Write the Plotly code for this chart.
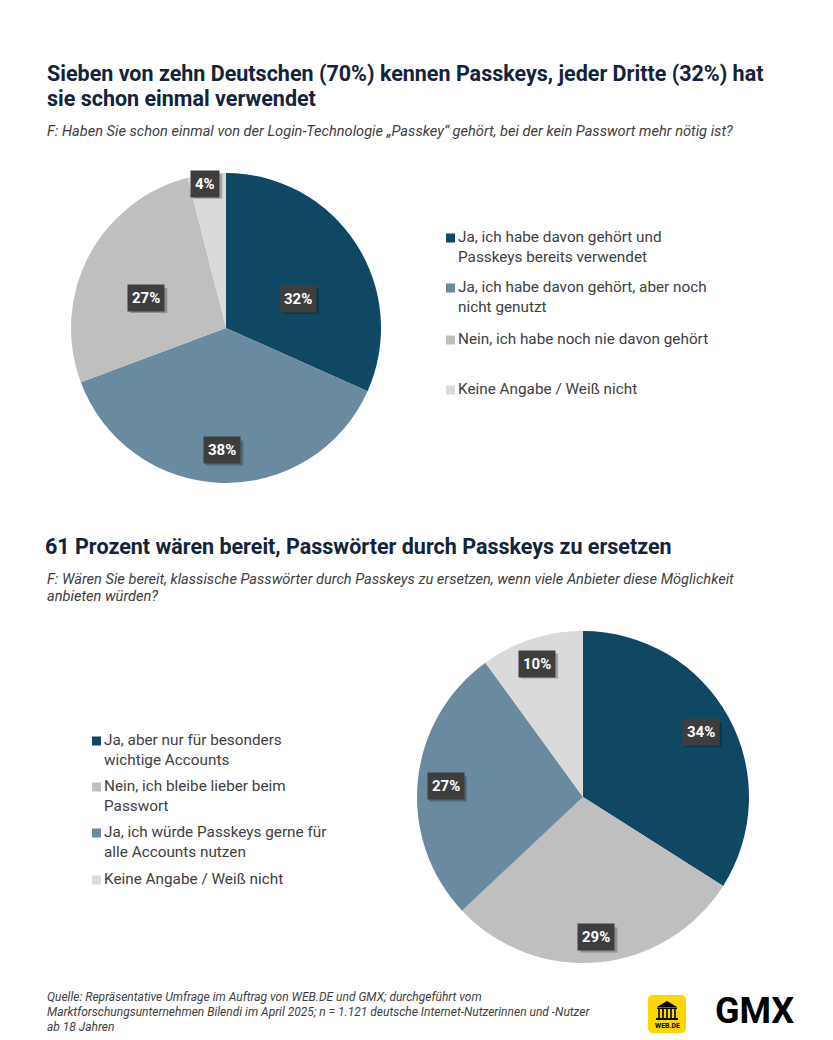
import math
import plotly.graph_objects as go

W, H = 833, 1040

# ---------------- data ----------------
title1_lines = ["Sieben von zehn Deutschen (70%) kennen Passkeys, jeder Dritte (32%) hat",
                "sie schon einmal verwendet"]
question1_lines = ["F: Haben Sie schon einmal von der Login-Technologie „Passkey“ gehört, bei der kein Passwort mehr nötig ist?"]
labels1 = ["Ja, ich habe davon gehört und<br>Passkeys bereits verwendet",
           "Ja, ich habe davon gehört, aber noch<br>nicht genutzt",
           "Nein, ich habe noch nie davon gehört",
           "Keine Angabe / Weiß nicht"]
values1 = [32, 38, 27, 4]

title2_lines = ["61 Prozent wären bereit, Passwörter durch Passkeys zu ersetzen"]
question2_lines = ["F: Wären Sie bereit, klassische Passwörter durch Passkeys zu ersetzen, wenn viele Anbieter diese Möglichkeit",
                   "anbieten würden?"]
labels2 = ["Ja, aber nur für besonders<br>wichtige Accounts",
           "Nein, ich bleibe lieber beim<br>Passwort",
           "Ja, ich würde Passkeys gerne für<br>alle Accounts nutzen",
           "Keine Angabe / Weiß nicht"]
values2 = [34, 29, 27, 10]

source_lines = ["Quelle: Repräsentative Umfrage im Auftrag von WEB.DE und GMX; durchgeführt vom",
                "Marktforschungsunternehmen Bilendi im April 2025; n = 1.121 deutsche Internet-Nutzerinnen und -Nutzer",
                "ab 18 Jahren"]

# ---------------- style ----------------
NAVY = "#104864"
STEEL = "#6a8aa0"
GRAY = "#bfbfbf"
LIGHT = "#dadada"
colors1 = [NAVY, STEEL, GRAY, LIGHT]
colors2 = [NAVY, GRAY, STEEL, LIGHT]
TITLE_C = "#13233b"
TEXT_C = "#404040"
FONT = "Roboto"

def px(x):
    return x / W

def py(y):
    return 1 - y / H

pie1 = dict(cx=226, cy=328, r=155)
pie2 = dict(cx=583, cy=797, r=166)
lab1_frac = [0.50, 0.79, 0.55, 0.94]
lab1_off = [11, 0, -7, -1]
lab2_frac = [0.81, 0.85, 0.83, 0.85]
lab2_off = [0, 0, -1, -1]

fig = go.Figure()

def add_pie(values, colors, p, names):
    fig.add_trace(go.Pie(
        values=values, labels=[n.replace("<br>", " ") for n in names],
        marker=dict(colors=colors, line=dict(width=0)),
        sort=False, direction="clockwise", rotation=0,
        textinfo="none", hoverinfo="label+percent", showlegend=False,
        domain=dict(x=[px(p["cx"] - p["r"]), px(p["cx"] + p["r"])],
                    y=[py(p["cy"] + p["r"]), py(p["cy"] - p["r"])]),
    ))

add_pie(values1, colors1, pie1, labels1)
add_pie(values2, colors2, pie2, labels2)

annotations = []
shapes = []

def text(x, y, t, size, color, xanchor="left", yanchor="middle"):
    annotations.append(dict(x=px(x), y=py(y), xref="paper", yref="paper",
                            xanchor=xanchor, yanchor=yanchor, align="left",
                            text=t, showarrow=False, borderpad=0, borderwidth=0,
                            font=dict(family=FONT, size=size, color=color)))

def pie_labels(values, p, fracs, offs):
    total = sum(values)
    cum = 0
    for v, f, o in zip(values, fracs, offs):
        mid = (cum + v / 2) / total * 360 + o
        cum += v
        th = math.radians(mid)
        x = p["cx"] + f * p["r"] * math.sin(th)
        y = p["cy"] - f * p["r"] * math.cos(th)
        lab = f"{v}%"
        bw = 8.3 * (len(lab) - 1) + 12.5 + 8
        bh = 25
        # soft drop shadow
        shapes.append(dict(type="rect", xref="paper", yref="paper",
                           x0=px(x - bw / 2 + 2.5), x1=px(x + bw / 2 + 2.5),
                           y0=py(y + bh / 2 + 2.5), y1=py(y - bh / 2 + 2.5),
                           fillcolor="rgba(0,0,0,0.25)", line=dict(width=0)))
        annotations.append(dict(
            x=px(x), y=py(y), xref="paper", yref="paper",
            xanchor="center", yanchor="middle",
            text=f"<b>{lab}</b>", showarrow=False,
            font=dict(family=FONT, size=15, color="white"),
            bgcolor="#3e3e3e", borderpad=4))

pie_labels(values1, pie1, lab1_frac, lab1_off)
pie_labels(values2, pie2, lab2_frac, lab2_off)

def legend(names, colors, x0, ys):
    for n, c, y in zip(names, colors, ys):
        shapes.append(dict(type="rect", xref="paper", yref="paper",
                           x0=px(x0), x1=px(x0 + 9), y0=py(y + 4.5), y1=py(y - 4.5),
                           fillcolor=c, line=dict(width=0)))
        text(x0 + 12, y - 10, n, 15.3, TEXT_C, yanchor="top")

legend(labels1, colors1, 446, [238, 288, 340, 390])
legend(labels2, colors2, 92, [741, 787, 833, 880])

# titles / questions / source
for i, t in enumerate(title1_lines):
    text(47, 74 + 24 * i, f"<b>{t}</b>", 21.5, TITLE_C)
for i, t in enumerate(question1_lines):
    text(47, 131 + 17 * i, f"<i>{t}</i>", 14.6, TEXT_C)
for i, t in enumerate(title2_lines):
    text(45, 546 + 24 * i, f"<b>{t}</b>", 21.5, TITLE_C)
for i, t in enumerate(question2_lines):
    text(47, 579 + 17 * i, f"<i>{t}</i>", 14.6, TEXT_C)
for i, t in enumerate(source_lines):
    text(47, 997 + 15 * i, f"<i>{t}</i>", 12, TEXT_C)

# WEB.DE logo
lx0, lx1, ly0, ly1, rr = 648, 686, 995, 1033, 5
path = (f"M {px(lx0+rr)},{py(ly0)} L {px(lx1-rr)},{py(ly0)} Q {px(lx1)},{py(ly0)} {px(lx1)},{py(ly0+rr)} "
        f"L {px(lx1)},{py(ly1-rr)} Q {px(lx1)},{py(ly1)} {px(lx1-rr)},{py(ly1)} "
        f"L {px(lx0+rr)},{py(ly1)} Q {px(lx0)},{py(ly1)} {px(lx0)},{py(ly1-rr)} "
        f"L {px(lx0)},{py(ly0+rr)} Q {px(lx0)},{py(ly0)} {px(lx0+rr)},{py(ly0)} Z")
shapes.append(dict(type="path", xref="paper", yref="paper", path=path, fillcolor="#ffd800", line=dict(width=0)))
shapes.append(dict(type="path", xref="paper", yref="paper",
                   path=f"M {px(657)},{py(1007)} L {px(667)},{py(1001)} L {px(677)},{py(1007)} Z",
                   fillcolor="black", line=dict(width=0)))
shapes.append(dict(type="rect", xref="paper", yref="paper", x0=px(657), x1=px(677), y0=py(1009), y1=py(1007.5),
                   fillcolor="black", line=dict(width=0)))
for cxl in [659, 663, 667, 671, 675]:
    shapes.append(dict(type="rect", xref="paper", yref="paper", x0=px(cxl - 0.8), x1=px(cxl + 0.8),
                       y0=py(1018), y1=py(1009), fillcolor="black", line=dict(width=0)))
shapes.append(dict(type="rect", xref="paper", yref="paper", x0=px(656), x1=px(678), y0=py(1020), y1=py(1018),
                   fillcolor="black", line=dict(width=0)))
text(667, 1026, "<b>WEB.DE</b>", 7, "black", xanchor="center")
text(754, 1011, "<b>GMX</b>", 36, "black", xanchor="center")

fig.update_layout(width=W, height=H, margin=dict(l=0, r=0, t=0, b=0),
                  paper_bgcolor="white", plot_bgcolor="white",
                  annotations=annotations, shapes=shapes, showlegend=False)

fig.write_html("out.html")
